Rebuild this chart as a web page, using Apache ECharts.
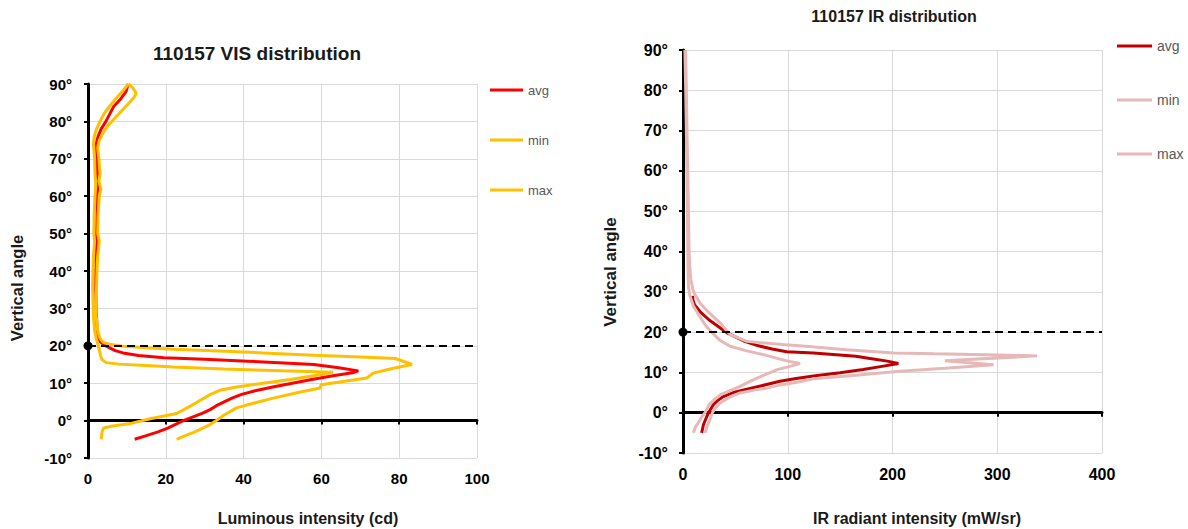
<!DOCTYPE html>
<html><head><meta charset="utf-8">
<script src="https://cdn.jsdelivr.net/npm/echarts@6/dist/echarts.min.js"></script>
<style>html,body{margin:0;padding:0;background:#fff}#c{width:1188px;height:529px}</style>
</head><body><div id="c"></div>
<script>
// Tick values
const angleTicks = [-10, 0, 10, 20, 30, 40, 50, 60, 70, 80, 90];
const visXTicks = [0, 20, 40, 60, 80, 100];
const irXTicks = [0, 100, 200, 300, 400];
const refAngle = 20;

// VIS series: [luminous intensity (cd), vertical angle (deg)]
const visAvg = [[12,-5],[15,-4],[18,-3],[20.5,-2],[22.5,-1],[24.5,0],[27,1],[29.5,2],[31.5,3],[33,4],[35,5],[37,6],[39.5,7],[43,8],[47.5,9],[52.5,10],[57.5,11],[63,12],[68,12.8],[69.5,13.3],[64,14.2],[58,15],[41,15.9],[30,16.4],[19.5,16.8],[13,17.4],[9,18.1],[7,18.7],[5.7,19.4],[4,20.3],[3.1,21.2],[2.6,22.5],[2.3,25],[2.1,30],[2,35],[2,40],[2.1,45],[2.2,50],[2.3,55],[2.4,60],[2.5,65],[2.3,70],[2.1,74],[2.6,76],[3.4,78],[4.6,80],[5.6,82],[6.6,84],[8.4,86],[9.8,88],[10.3,90]];
const visMin = [[3.4,-5],[3.6,-3],[4,-2],[6,-1.5],[10.8,-0.8],[16,0.5],[22.8,1.9],[26.2,3.8],[29,5.5],[31.5,7],[33.9,8.1],[38.2,9],[45,10],[52,11],[58,12],[63,12.9],[50,13.3],[35,13.8],[22,14.3],[15,14.7],[8,15.1],[4.7,15.5],[3.6,16.3],[3.2,17.5],[2.9,19],[2.5,20.5],[2.1,22],[1.7,24],[1.4,28],[1.3,32],[1.2,36],[1.3,40],[1.4,44],[1.7,48],[1.5,50],[1.6,55],[1.8,60],[2.0,63],[1.8,66],[1.7,70],[1.4,74],[1.6,76],[2.2,78],[3.1,80],[4.1,82],[5.5,84],[7.1,86],[8.8,88],[10.4,90]];
const visMax = [[22.8,-5],[25,-4],[27.5,-3],[29.5,-2],[31.5,-1],[33,0],[35,1.5],[38.2,3.4],[42,4.5],[47.6,6],[54,7.5],[59.7,8.7],[59.9,9.6],[66,10.5],[71.7,11.4],[73.3,12.7],[78.5,14],[83.3,15],[79,16.6],[70,17],[58,17.5],[45,18.1],[32,18.7],[22,19.1],[15,19.5],[9,19.9],[5.5,20.4],[3.9,20.9],[3.1,22],[2.5,24],[2.1,28],[2.1,32],[2.2,36],[2.3,40],[2.5,44],[2.9,48],[2.5,50],[2.6,55],[2.9,60],[3.3,62],[2.8,64],[3.1,66],[2.8,70],[2.5,73],[2.9,75],[3.9,77],[5.2,79],[7,81],[8.8,83],[10.6,85],[11.9,86.5],[12.4,87.5],[11.5,89],[10.4,90]];

// IR series: [radiant intensity (mW/sr), vertical angle (deg)]
const irAvg = [[17.8,-5],[19.5,-3],[22.6,-1],[25.5,0.5],[29,2],[33,3],[38.5,4],[48,5],[61,5.8],[75,6.7],[92.6,7.8],[108,8.5],[124.5,9.1],[150,9.9],[172,10.7],[190,11.5],[205.6,12.2],[195,12.8],[180,13.4],[165,14],[124.5,14.8],[99,15.1],[85,15.8],[72,16.6],[58,17.8],[42,19.8],[33,21.5],[25,23],[16.2,25.1],[11,26.8],[9.5,28],[9.2,29]];
const irMin = [[9.9,-5],[12,-3.5],[14.6,-2.5],[18,-1],[21,0],[25,2],[30,3.3],[36,4.5],[45,5.5],[55,6.6],[66,8],[79,9.5],[90,10.7],[102,11.5],[111.7,12.2],[100,12.8],[92.6,13.3],[77,14.4],[60,15.4],[45,16.5],[35,18],[28,19.8],[22,21.5],[16,23.9],[10,26.4],[6.7,28.9],[5.3,31],[5,33],[4.6,40],[4.2,50],[3.7,60],[3.2,70],[2.6,80],[1.8,90]];
const irMax = [[21,-5],[23.5,-3],[25.8,-1.7],[28,0],[31,1.2],[35.3,2.4],[44,3.8],[54.4,4.9],[68,5.6],[80,6.1],[92.6,6.9],[110,7.6],[124.5,8.4],[165,9.3],[204,10.2],[250,11],[296.5,11.9],[250,12.9],[338,14.1],[290,14.4],[240,14.6],[201,14.8],[156,15.6],[120,16.4],[95,16.9],[61,17.7],[45,19.4],[35.3,22.3],[24,25],[16.2,27.2],[11,29.5],[9.5,30.5],[7.5,33],[6.5,36],[5.8,40],[5.2,50],[4.5,60],[3.8,70],[3.2,80],[2.5,90]];

const FONT = '"Liberation Sans", Arial, sans-serif';
const GRID_COLOR = '#D9D9D9';

function labelAxisX(gi, ticks, fs) {
  return {gridIndex: gi, type: 'value', min: ticks[0], max: ticks[ticks.length-1], interval: ticks[1]-ticks[0], position: 'bottom',
    axisLine: {show: false, onZero: false}, axisTick: {show: false},
    axisLabel: {fontFamily: FONT, fontWeight: 'bold', fontSize: fs, color: '#000', margin: 13},
    splitLine: {show: true, lineStyle: {color: GRID_COLOR, width: 1}}};
}
function zeroAxisX(gi, ticks) {
  return {gridIndex: gi, type: 'value', min: ticks[0], max: ticks[ticks.length-1], interval: ticks[1]-ticks[0], position: 'bottom',
    axisLine: {show: true, onZero: true, lineStyle: {color: '#000', width: 3}},
    axisTick: {show: true, length: 4, lineStyle: {color: '#000', width: 2}},
    axisLabel: {show: false}, splitLine: {show: false}};
}
function angleAxis(gi, fs, margin) {
  return {gridIndex: gi, type: 'value', min: angleTicks[0], max: angleTicks[angleTicks.length-1], interval: angleTicks[1]-angleTicks[0],
    axisLine: {show: true, onZero: true, lineStyle: {color: '#000', width: 3}},
    axisTick: {show: true, length: 4, lineStyle: {color: '#000', width: 2}},
    axisLabel: {fontFamily: FONT, fontWeight: 'bold', fontSize: fs, color: '#000', margin: margin, formatter: '{value}°'},
    splitLine: {show: true, lineStyle: {color: GRID_COLOR, width: 1}}};
}
function lineSeries(name, data, color, width, xi, yi, withRef) {
  const s = {name: name, type: 'line', xAxisIndex: xi, yAxisIndex: yi, data: data, symbol: 'none', showSymbol: false,
    smooth: false, animation: false, itemStyle: {color: color}, lineStyle: {color: color, width: width}, z: 3};
  if (withRef) {
    s.markLine = {silent: true, animation: false, symbol: ['circle', 'none'], symbolSize: 9,
      label: {show: false}, lineStyle: {color: '#000', type: [8, 5], width: 2},
      data: [{yAxis: refAngle}]};
  }
  return s;
}
function txt(x, y, text, size, rot, color) {
  return {type: 'text', x: x, y: y, rotation: rot || 0,
    style: {text: text, font: 'bold ' + size + 'px ' + FONT, fill: color || '#1a1a1a', align: 'center', verticalAlign: 'middle'}};
}

const chart = echarts.init(document.getElementById('c'), null, {renderer: 'svg'});
chart.setOption({
  animation: false,
  backgroundColor: '#fff',
  grid: [
    {left: 88, top: 84, width: 389, height: 374, outerBoundsMode: 'none'},
    {left: 683, top: 50, width: 419, height: 403, outerBoundsMode: 'none'}
  ],
  xAxis: [labelAxisX(0, visXTicks, 15), zeroAxisX(0, visXTicks), labelAxisX(1, irXTicks, 16), zeroAxisX(1, irXTicks)],
  yAxis: [angleAxis(0, 15, 16), angleAxis(1, 16, 15)],
  legend: [
    {data: ['VIS avg', 'VIS min', 'VIS max'], orient: 'vertical', left: 485, top: 78, icon: 'rect', itemWidth: 33, itemHeight: 3, itemGap: 36, padding: 5,
      selectedMode: false, formatter: n => n.split(' ')[1], textStyle: {fontFamily: FONT, fontSize: 13, color: '#595959', lineHeight: 14}},
    {data: ['IR avg', 'IR min', 'IR max'], orient: 'vertical', left: 1112, top: 34, icon: 'rect', itemWidth: 35, itemHeight: 3, itemGap: 40, padding: 5,
      selectedMode: false, formatter: n => n.split(' ')[1], textStyle: {fontFamily: FONT, fontSize: 14, color: '#595959', lineHeight: 14}}
  ],
  series: [
    lineSeries('VIS avg', visAvg, '#FF0000', 3, 0, 0, true),
    lineSeries('VIS min', visMin, '#FFC000', 3, 0, 0, false),
    lineSeries('VIS max', visMax, '#FFC000', 3, 0, 0, false),
    lineSeries('IR avg', irAvg, '#C00000', 3, 2, 1, true),
    lineSeries('IR min', irMin, '#E6B9B8', 3, 2, 1, false),
    lineSeries('IR max', irMax, '#E6B9B8', 3, 2, 1, false)
  ],
  graphic: [
    txt(257, 53, '110157 VIS distribution', 19),
    txt(894, 16, '110157 IR distribution', 16),
    txt(17, 288, 'Vertical angle', 16.5, Math.PI / 2),
    txt(610, 272, 'Vertical angle', 17, Math.PI / 2),
    txt(308, 518, 'Luminous intensity (cd)', 16),
    txt(917, 518, 'IR radiant intensity (mW/sr)', 16)
  ]
});
</script>
</body></html>
